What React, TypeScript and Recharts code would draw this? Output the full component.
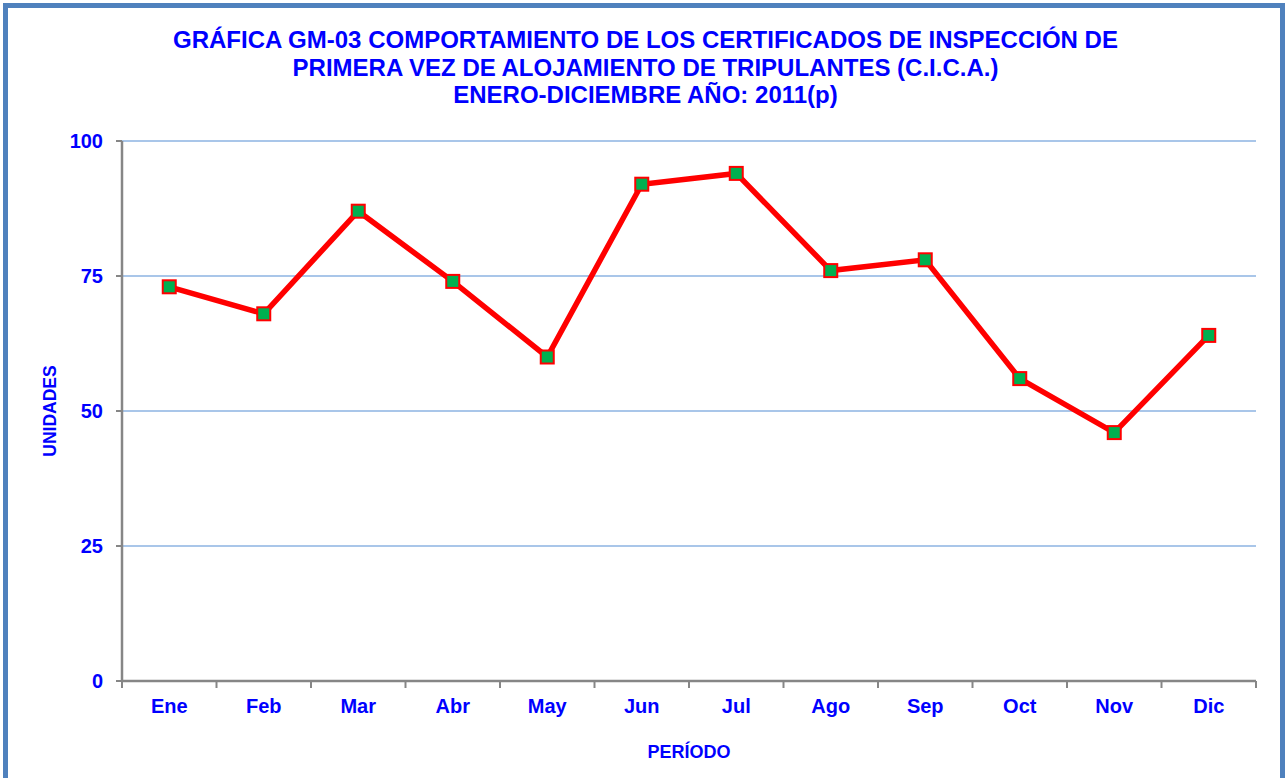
import { CartesianGrid, Line, LineChart, XAxis, YAxis } from "recharts";

const meses = ["Ene", "Feb", "Mar", "Abr", "May", "Jun", "Jul", "Ago", "Sep", "Oct", "Nov", "Dic"];
const unidades = [73, 68, 87, 74, 60, 92, 94, 76, 78, 56, 46, 64];
const yTicks = [0, 25, 50, 75, 100];
const tituloLineas = [
  "GRÁFICA GM-03 COMPORTAMIENTO DE LOS CERTIFICADOS DE INSPECCIÓN DE",
  "PRIMERA VEZ DE ALOJAMIENTO DE TRIPULANTES (C.I.C.A.)",
  "ENERO-DICIEMBRE AÑO: 2011(p)",
];

const data = meses.map((mes, i) => ({ mes, valor: unidades[i] }));

const AZUL = "#0000FF";
const GRIS = "#868686";
const FONT = "'Liberation Sans', Arial, sans-serif";
const TICK_GAP = 18;

function Cuadro(props: any) {
  const { cx, cy } = props;
  if (cx == null || cy == null) return null;
  return <rect x={cx - 6.5} y={cy - 6.5} width={13} height={13} fill="#00B050" stroke="#FF0000" strokeWidth={2} />;
}

// etiqueta del mes al centro y marca de división en el borde de cada categoría
function TickMes(props: any) {
  const { x, y, payload, index } = props;
  const half = payload.offset || 0;
  const y0 = y - TICK_GAP;
  const last = index === meses.length - 1;
  return (
    <g>
      <line x1={x - half} x2={x - half} y1={y0} y2={y0 + 7} stroke={GRIS} strokeWidth={2} />
      {last && <line x1={x + half} x2={x + half} y1={y0} y2={y0 + 7} stroke={GRIS} strokeWidth={2} />}
      <text x={x} y={y} dy="0.71em" textAnchor="middle" fill={AZUL} fontSize={20} fontWeight="bold" fontFamily={FONT}>
        {payload.value}
      </text>
    </g>
  );
}

export default function App() {
  return (
    <div style={{ position: "absolute", left: 0, top: 0, width: 1287, height: 778, background: "#fff", fontFamily: FONT, overflow: "hidden" }}>
      <div
        style={{
          position: "absolute",
          left: 3,
          top: 3,
          width: 1282,
          height: 800,
          border: "5px solid #4F81BD",
          boxSizing: "border-box",
        }}
      />
      <div
        style={{
          position: "absolute",
          left: 0,
          top: 26,
          width: 1291,
          textAlign: "center",
          color: AZUL,
          fontWeight: "bold",
          fontSize: 24,
          lineHeight: "27.5px",
        }}
      >
        {tituloLineas.map((t) => (
          <div key={t}>{t}</div>
        ))}
      </div>
      <div
        style={{
          position: "absolute",
          left: 50,
          top: 411,
          transform: "translate(-50%, -50%) rotate(-90deg)",
          color: AZUL,
          fontWeight: "bold",
          fontSize: 17.5,
          whiteSpace: "nowrap",
        }}
      >
        UNIDADES
      </div>
      <div
        style={{
          position: "absolute",
          left: 689,
          top: 752,
          transform: "translate(-50%, -50%)",
          color: AZUL,
          fontWeight: "bold",
          fontSize: 18,
          whiteSpace: "nowrap",
        }}
      >
        PERÍODO
      </div>
      <LineChart
        width={1287}
        height={778}
        data={data}
        margin={{ top: 141, right: 31, left: 62, bottom: 67 }}
        style={{ position: "absolute", left: 0, top: 0, fontFamily: FONT }}
      >
        <CartesianGrid vertical={false} stroke="#8DB3E2" strokeWidth={1.5} />
        <XAxis
          dataKey="mes"
          scale="band"
          axisLine={{ stroke: GRIS, strokeWidth: 2.5 }}
          tickLine={false}
          tickSize={0}
          tickMargin={TICK_GAP}
          height={30}
          interval={0}
          tick={<TickMes />}
        />
        <YAxis
          domain={[0, 100]}
          ticks={yTicks}
          width={60}
          axisLine={{ stroke: GRIS, strokeWidth: 2.5 }}
          tickLine={{ stroke: GRIS, strokeWidth: 2 }}
          tickSize={6}
          tickMargin={13}
          tick={{ fill: AZUL, fontSize: 20, fontWeight: "bold" }}
        />
        <YAxis
          yAxisId="r"
          orientation="right"
          width={0}
          domain={[0, 100]}
          tick={false}
          axisLine={{ stroke: "#8DB3E2", strokeWidth: 2 }}
        />
        <Line
          dataKey="valor"
          stroke="#FF0000"
          strokeWidth={5.5}
          type="linear"
          dot={<Cuadro />}
          activeDot={false}
          isAnimationActive={false}
        />
      </LineChart>
    </div>
  );
}
